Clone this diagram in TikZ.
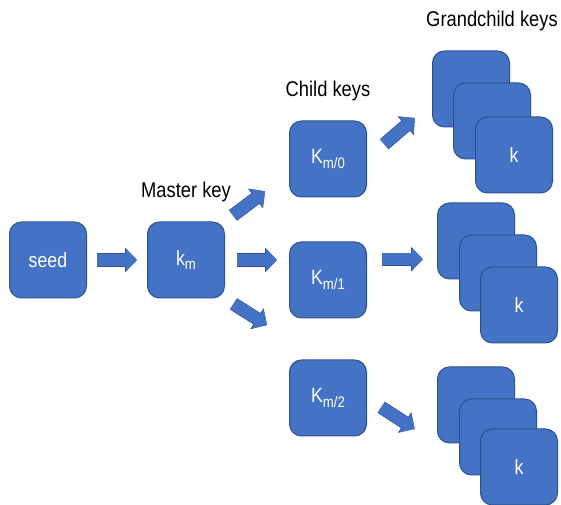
\documentclass[tikz,border=0pt]{standalone}
\usepackage{fontspec}
\setmainfont[FakeStretch=0.86]{Liberation Sans}
\usetikzlibrary{arrows.meta, calc}
\definecolor{keyblue}{HTML}{4472C4}
\definecolor{keyedge}{HTML}{2F528F}
\newcommand{\keysub}[1]{\raisebox{-3.5pt}{\fontsize{11.5}{12}\selectfont #1}}

\begin{document}
\begin{tikzpicture}[x=0.75pt, y=-0.75pt,
    key/.style={draw=keyedge, fill=keyblue, line width=0.75pt, rounded corners=9pt,
                minimum width=57.75pt, minimum height=57pt, inner sep=0pt,
                text=white, font=\fontsize{15.5}{18}\selectfont},
    lbl/.style={font=\fontsize{16}{19}\selectfont},
    blk/.style={line width=9pt, draw=keyblue, -{Triangle[width=16.5pt, length=8.25pt]},
                preaction={draw=keyedge, line width=10pt, -{Triangle[width=18pt, length=9pt]}}}
]
\useasboundingbox (0,0) rectangle (561,505);

\node[key] (seed) at (48,260)  {seed};
\node[key] (km)   at (186,260) {k\keysub{m}};
\node[key] (k0)   at (328,159) {K\keysub{m/0}};
\node[key] (k1)   at (328,280) {K\keysub{m/1}};
\node[key] (k2)   at (328,398) {K\keysub{m/2}};

% grandchild stacks
\node[key] (g0a) at (471,89)  {};
\node[key] (g0b) at (492,121) {};
\node[key] (g0c) at (514,155) {k};
\node[key] (g1a) at (476,241) {};
\node[key] (g1b) at (498,273) {};
\node[key] (g1c) at (519,305) {k};
\node[key] (g2a) at (476,405) {};
\node[key] (g2b) at (498,437) {};
\node[key] (g2c) at (519,467) {k};

\node[lbl] (master) at (186,192) {Master key};
\node[lbl] (child)  at (328,91)  {Child keys};
\node[lbl] (grand)  at (492,21)  {Grandchild keys};

\draw[blk, shorten <=7.5pt, shorten >=7.5pt] (seed) -- (km);
\draw[blk, shorten <=7.5pt, shorten >=22.5pt] (km.north east) -- (k0.200);
\draw[blk, shorten <=9pt, shorten >=9pt] (km.east) -- (km.east -| k1.west);
\draw[blk, shorten <=7.5pt, shorten >=19.5pt] (km.south east) -- ($(k1.south west)!0.5!(k2.north west)$);
\draw[blk, shorten <=17pt, shorten >=17pt] (k0.east) -- (g0a.200);
\draw[blk, shorten <=11.25pt, shorten >=10.5pt] (k1.28) -- (k1.28 -| g1a.west);
\draw[blk, shorten <=12.75pt, shorten >=20pt] (k2.east) -- (g2a.south west);
\end{tikzpicture}
\end{document}
